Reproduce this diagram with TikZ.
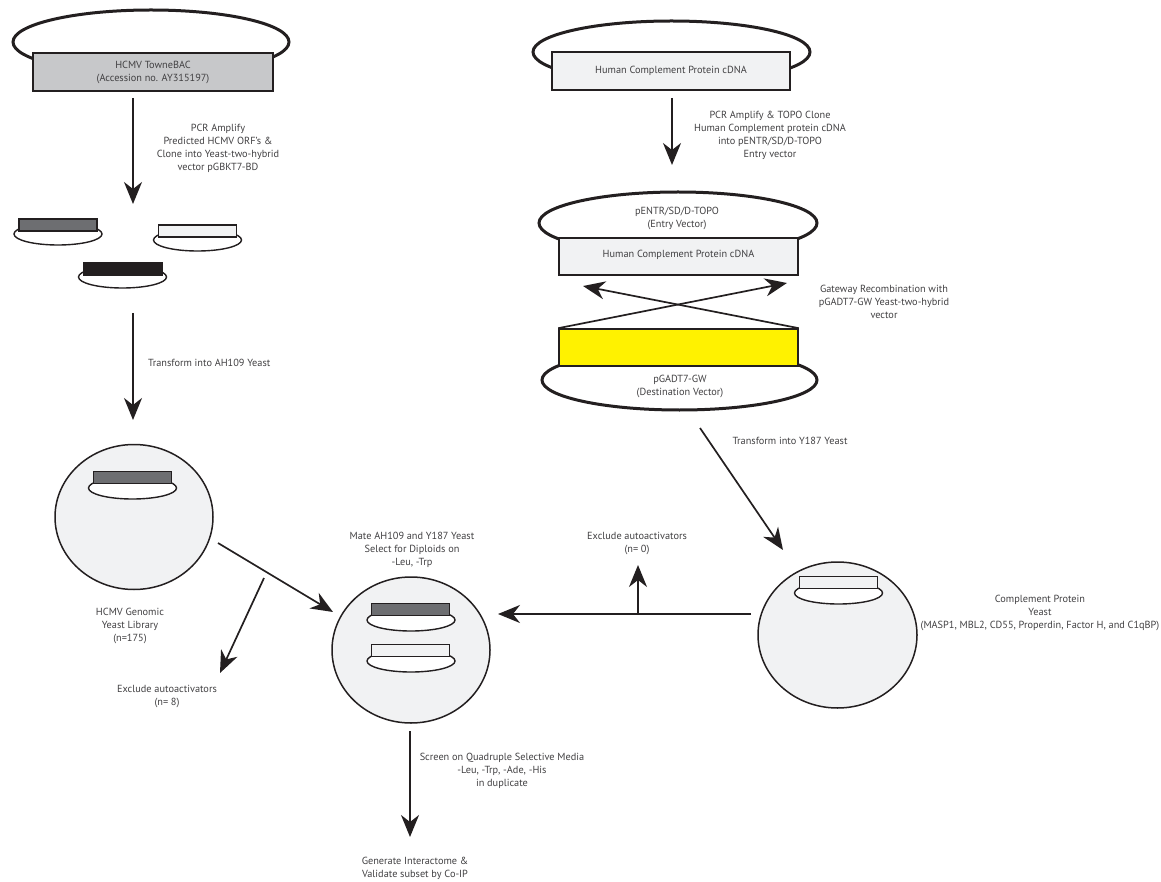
\documentclass[tikz,border=0pt]{standalone}
\usepackage{fontspec}
\setmainfont{PT Sans}
\usetikzlibrary{arrows.meta,shapes.geometric}
\definecolor{bacgray}{HTML}{C7C8CA}
\definecolor{lightfill}{HTML}{F1F2F3}
\definecolor{darkins}{HTML}{6D6E71}
\definecolor{blackins}{HTML}{231F20}
\definecolor{gwyellow}{HTML}{FFF200}
\definecolor{txt}{HTML}{414042}
\definecolor{ln}{HTML}{231F20}
\tikzset{
  arr/.style={draw=ln, line width=1.7pt, -{Stealth[length=22pt,width=18pt,inset=7pt]}},
  loopel/.style={ellipse, draw=ln, line width=3pt, inner sep=0pt},
  bigbox/.style={rectangle, draw=ln, line width=1.6pt, inner sep=0pt, font=\fontsize{10.3}{13}\selectfont, text=txt, align=center},
  plasbox/.style={rectangle, draw=ln, line width=1.5pt, inner sep=0pt, minimum width=78pt, minimum height=12pt},
  plasel/.style={ellipse, draw=ln, fill=white, line width=1.4pt, inner sep=0pt, minimum width=88pt, minimum height=22pt},
  cell/.style={ellipse, draw=ln, fill=lightfill, line width=1.5pt, inner sep=0pt},
  lbl/.style={font=\fontsize{10.3}{13}\selectfont, text=txt, align=center, inner sep=0pt}
}
\begin{document}
\begin{tikzpicture}[x=1pt,y=-1pt]
\useasboundingbox (0,0) rectangle (1161,882);

% ---------- top left BAC ----------
\node[loopel, minimum width=276pt, minimum height=64pt] (bacloop) at (151,42) {};
\node[bigbox, fill=bacgray, minimum width=240pt, minimum height=38pt] (bac) at (153,72) {HCMV TowneBAC\\(Accession no. AY315197)};

\coordinate (a1s) at (133,98);
\coordinate (a1e) at (133,204);
\draw[arr] (a1s) -- (a1e);
\node[lbl] (l1) at (218,148) {PCR Amplify\\Predicted HCMV ORF's \&\\Clone into Yeast-two-hybrid\\vector pGBKT7-BD};

% small plasmids
\node[plasel] (pAel) at (58,234) {};
\node[plasbox, fill=darkins] (pAbx) at (58,225) {};
\node[plasel] (pBel) at (197.5,240) {};
\node[plasbox, fill=lightfill] (pBbx) at (197.5,231) {};
\node[plasel] (pCel) at (122.5,277) {};
\node[plasbox, fill=blackins] (pCbx) at (123,269) {};

\coordinate (a2s) at (133,313);
\coordinate (a2e) at (133,420);
\draw[arr] (a2s) -- (a2e);
\node[lbl, anchor=west] (l2) at (148,363) {Transform into AH109 Yeast};

% left cell
\node[cell, minimum width=158pt, minimum height=145pt] (cellL) at (134,517) {};
\node[plasel] (pLel) at (132.5,488) {};
\node[plasbox, fill=darkins] (pLbx) at (132.5,477.5) {};
\node[lbl] (l3) at (130,626) {HCMV Genomic\\Yeast Library\\(n=175)};

\coordinate (a3s) at (218,543);
\coordinate (a3e) at (333,612);
\draw[arr] (a3s) -- (a3e);
\coordinate (a4s) at (264,578);
\coordinate (a4e) at (220,673);
\draw[arr] (a4s) -- (a4e);
\node[lbl] (l4) at (167,696) {Exclude autoactivators\\(n= 8)};

% center cell
\node[cell, minimum width=158pt, minimum height=146pt] (cellC) at (411,650) {};
\node[plasel] (pC1el) at (411,620) {};
\node[plasbox, fill=darkins] (pC1bx) at (410.5,609.5) {};
\node[plasel] (pC2el) at (411,661) {};
\node[plasbox, fill=lightfill] (pC2bx) at (410.5,650.5) {};
\node[lbl] (l5) at (412,550) {Mate AH109 and Y187 Yeast\\Select for Diploids on\\-Leu, -Trp};

% right cell
\node[cell, minimum width=159pt, minimum height=146pt] (cellR) at (837.5,635) {};
\node[plasel] (pRel) at (838.5,593) {};
\node[plasbox, fill=lightfill] (pRbx) at (838.5,582.5) {};
\node[lbl] (l7) at (1040,613) {Complement Protein\\Yeast\\(MASP1, MBL2, CD55, Properdin, Factor H, and C1qBP)};

\coordinate (a5s) at (751,614);
\coordinate (a5e) at (498,614);
\draw[arr] (a5s) -- (a5e);
\coordinate (a6s) at (638,614);
\coordinate (a6e) at (638,565);
\draw[arr] (a6s) -- (a6e);
\node[lbl] (l6) at (637,543) {Exclude autoactivators\\(n= 0)};

% bottom
\coordinate (a8s) at (410,731);
\coordinate (a8e) at (410,837);
\draw[arr] (a8s) -- (a8e);
\node[lbl] (l13) at (502,771) {Screen on Quadruple Selective Media\\-Leu, -Trp, -Ade, -His\\in duplicate};
\node[lbl] (l14) at (415,868) {Generate Interactome \&\\Validate subset by Co-IP};

% ---------- top right ----------
\node[loopel, minimum width=277pt, minimum height=62pt] (hcloop) at (671.5,52) {};
\node[bigbox, fill=lightfill, minimum width=238pt, minimum height=38pt] (hc) at (671,71) {Human Complement Protein cDNA};

\coordinate (a9s) at (672,98);
\coordinate (a9e) at (672,165);
\draw[arr] (a9s) -- (a9e);
\node[lbl] (l9) at (770,135.5) {PCR Amplify \& TOPO Clone\\Human Complement protein cDNA\\into pENTR/SD/D-TOPO\\Entry vector};

% entry vector
\node[loopel, minimum width=278pt, minimum height=62pt] (entloop) at (678,223) {};
\node[lbl] (l10) at (677,218) {pENTR/SD/D-TOPO\\(Entry Vector)};
\node[bigbox, fill=lightfill, minimum width=239pt, minimum height=37pt, text depth=6pt] (ent) at (678.5,256.5) {Human Complement Protein cDNA};

% destination vector
\node[loopel, minimum width=275pt, minimum height=60pt] (dstloop) at (679.5,380) {};
\node[bigbox, fill=gwyellow, minimum width=239pt, minimum height=37pt] (gw) at (678.5,347.5) {};
\node[lbl] (l12) at (680,386) {pGADT7-GW\\(Destination Vector)};

\coordinate (xr) at (787,283);
\coordinate (xl) at (583,286);
\draw[arr] (gw.north west) -- (xr);
\draw[arr] (gw.north east) -- (xl);
\node[lbl] (l11) at (884,302) {Gateway Recombination with\\pGADT7-GW Yeast-two-hybrid\\vector};

\coordinate (a7s) at (700,428);
\coordinate (a7e) at (783,550);
\draw[arr] (a7s) -- (a7e);
\node[lbl] (l8) at (790,441) {Transform into Y187 Yeast};

\end{tikzpicture}
\end{document}
